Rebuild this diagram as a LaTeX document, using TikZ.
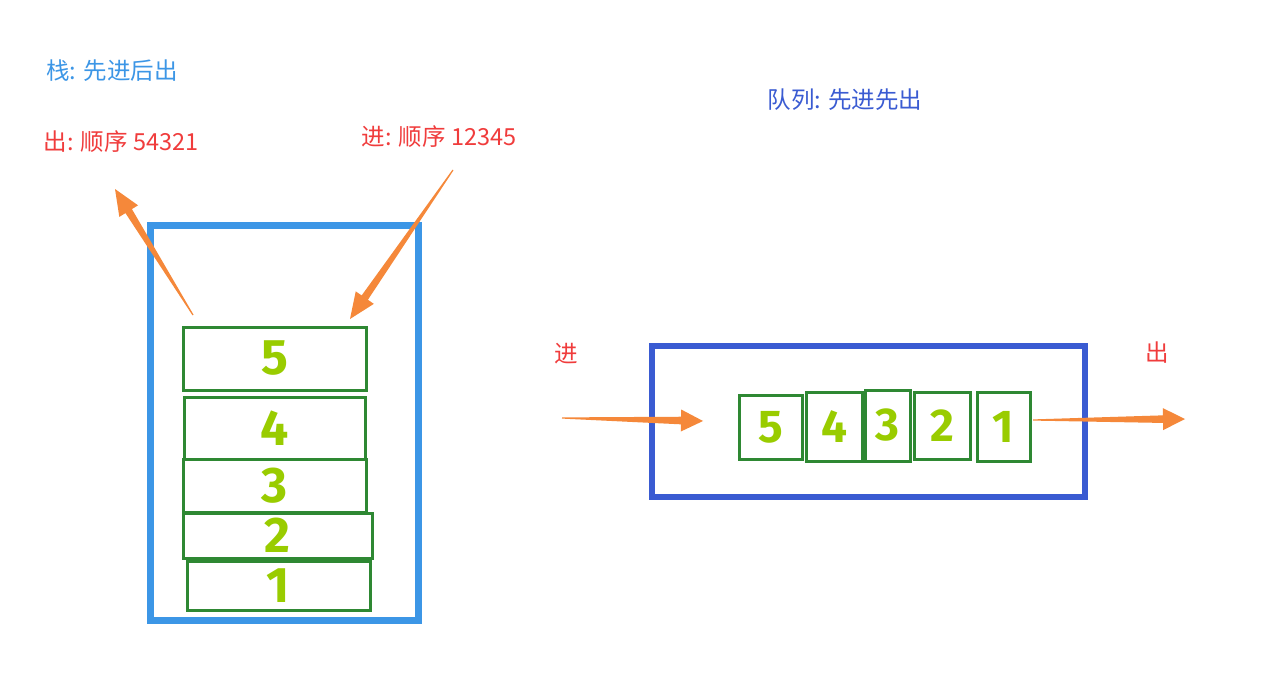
\documentclass[tikz,border=0pt]{standalone}
\usepackage{fontspec}
\setmainfont{Noto Sans CJK SC}
\newfontfamily\digitfont{Fira Sans}
\usetikzlibrary{calc}
\definecolor{stackblue}{RGB}{60,150,230}
\definecolor{queueblue}{RGB}{58,91,210}
\definecolor{labelred}{RGB}{240,60,60}
\definecolor{boxgreen}{RGB}{46,136,51}
\definecolor{digitgreen}{RGB}{153,204,0}
\definecolor{arroworange}{RGB}{245,136,58}

% tapered arrow: [head length]{tail}{tip}
\newcommand{\fatarrow}[3][22]{%
  \fill[arroworange] ($(#2)!0.6pt!90:(#3)$)
    -- ($(#3)!#1pt!(#2)!3.8pt!90:(#3)$)
    -- ($(#3)!#1pt!(#2)!11pt!90:(#3)$)
    -- (#3)
    -- ($(#3)!#1pt!(#2)!11pt!-90:(#3)$)
    -- ($(#3)!#1pt!(#2)!3.8pt!-90:(#3)$)
    -- ($(#2)!0.6pt!-90:(#3)$) -- cycle;}

\begin{document}
\begin{tikzpicture}[x=1pt, y=-1pt,
    elem/.style={draw=boxgreen, line width=3pt, inner sep=0pt, text=digitgreen,
      font=\digitfont\bfseries\fontsize{50}{50}\selectfont},
    qelem/.style={elem, font=\digitfont\bfseries\fontsize{46}{46}\selectfont},
    note/.style={font=\fontsize{23.5}{23.5}\selectfont, inner sep=0pt}]
    \useasboundingbox[fill=white] (0,0) rectangle (1269,690);

    % stack
    \node[note, text=stackblue] (stacktitle) at (112,71) {栈: 先进后出};
    \node[note, text=labelred] (popnote) at (121,142) {出: 顺序 54321};
    \node[note, text=labelred] (pushnote) at (439,137) {进: 顺序 12345};
    \draw[stackblue, line width=7pt] (150.5,225) rectangle (418.5,620.5);
    \node[elem, minimum width=183, minimum height=63] (s5) at (274.5,358.5) {5};
    \node[elem, minimum width=181, minimum height=62] (s4) at (274.5,428) {4};
    \node[elem, minimum width=183, minimum height=53] (s3) at (274.5,485.5) {3};
    \node[elem, minimum width=189, minimum height=45] (s2) at (277.5,535.5) {2};
    \node[elem, minimum width=183, minimum height=49] (s1) at (278.5,585.5) {1};
    \coordinate (popTail) at (193,315);
    \coordinate (popTip) at (115,189);
    \coordinate (pushTail) at (453,170);
    \coordinate (pushTip) at (350,319);
    \fatarrow[26]{popTail}{popTip}
    \fatarrow[26]{pushTail}{pushTip}

    % queue
    \node[note, text=queueblue] (queuetitle) at (845,100) {队列: 先进先出};
    \node[note, text=labelred] (enqnote) at (566,354) {进};
    \node[note, text=labelred] (deqnote) at (1157,353) {出};
    \draw[queueblue, line width=6.5pt] (652,346) rectangle (1085,497);
    \node[qelem, minimum width=63, minimum height=64] (q5) at (770.5,427) {5};
    \node[qelem, minimum width=56, minimum height=69] (q4) at (834,426.5) {4};
    \node[qelem, minimum width=45, minimum height=71] (q3) at (887.5,425.5) {3};
    \node[qelem, minimum width=56, minimum height=67] (q2) at (942,425.5) {2};
    \node[qelem, minimum width=53, minimum height=69] (q1) at (1003.5,426.5) {1};
    \coordinate (enqTail) at (562,418);
    \coordinate (enqTip) at (703,421);
    \coordinate (deqTail) at (1033,420);
    \coordinate (deqTip) at (1185,419);
    \fatarrow{enqTail}{enqTip}
    \fatarrow{deqTail}{deqTip}
\end{tikzpicture}
\end{document}
